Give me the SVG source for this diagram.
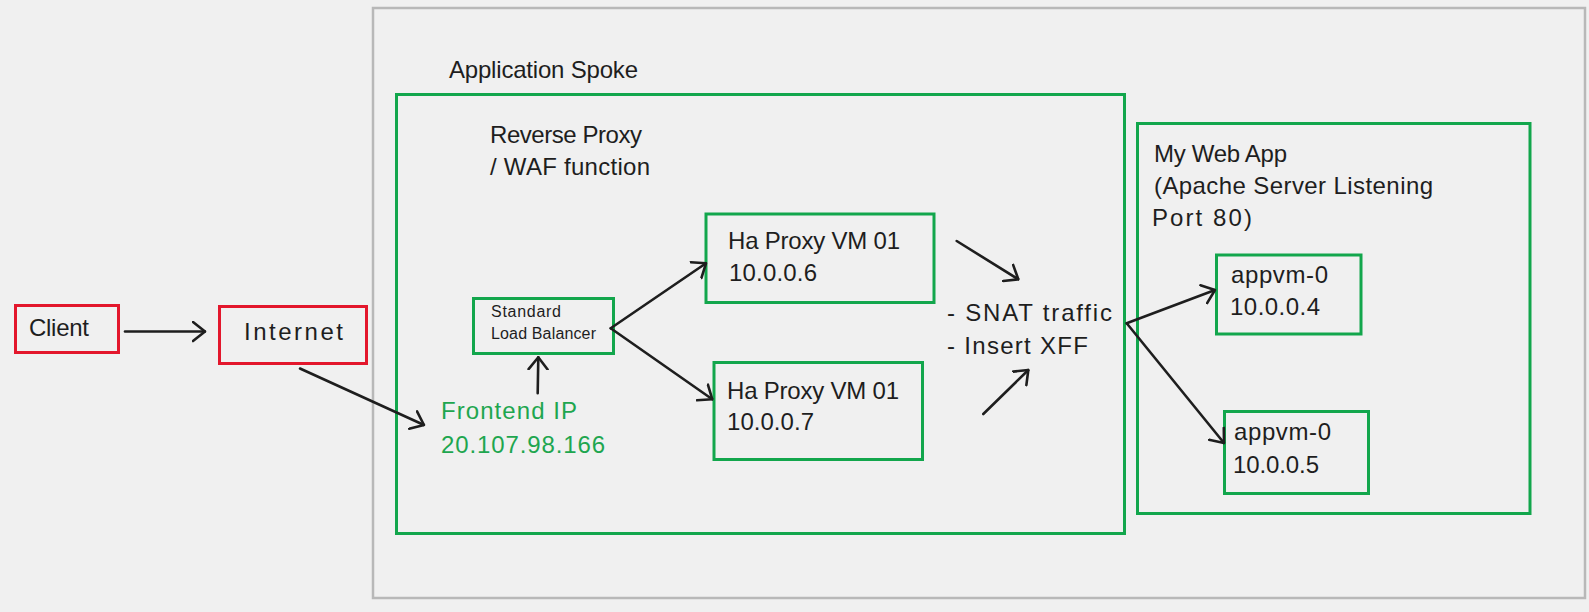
<svg xmlns="http://www.w3.org/2000/svg" width="1589" height="612" viewBox="0 0 1589 612">
<defs>
<style>
.t{font-family:"Liberation Sans","DejaVu Sans",sans-serif;fill:#1e1e1e;font-size:24px}
.s{font-size:16px}
.g{fill:#1ea64f}
.gb{fill:none;stroke:#12a64c;stroke-width:3}
.rb{fill:none;stroke:#e3172c;stroke-width:3}
.ob{fill:none;stroke:#b8b8b8;stroke-width:2.5}
.c line{stroke:#1e1e1e;stroke-width:2.6;fill:none;stroke-linecap:round;marker-end:url(#ah)}
</style>
<marker id="ah" viewBox="0 0 14 22" refX="13" refY="11" markerWidth="14" markerHeight="22" markerUnits="userSpaceOnUse" orient="auto">
<path d="M1,1.5 L13,11 L1,20.5" fill="none" stroke="#1e1e1e" stroke-width="2.6" stroke-linecap="round" stroke-linejoin="round"/>
</marker>
</defs>
<rect width="1589" height="612" fill="#f0f0f0"/>
<g id="application-spoke">
<rect class="ob" x="373" y="8" width="1212" height="590"/>
<text class="t" x="449" y="78" textLength="189" lengthAdjust="spacing">Application Spoke</text>
</g>
<g id="reverse-proxy">
<rect class="gb" x="396.5" y="94.5" width="728" height="439"/>
<text class="t" x="490" y="143" textLength="152" lengthAdjust="spacing">Reverse Proxy</text>
<text class="t" x="490" y="175" textLength="160" lengthAdjust="spacing">/ WAF function</text>
</g>
<g id="client">
<rect class="rb" x="15.5" y="305.5" width="103" height="47"/>
<text class="t" x="29" y="336" textLength="60" lengthAdjust="spacing">Client</text>
</g>
<g id="internet">
<rect class="rb" x="219.5" y="306.5" width="147" height="57"/>
<text class="t" x="244" y="340" textLength="99" lengthAdjust="spacing">Internet</text>
</g>
<g id="frontend-ip">
<text class="t g" x="441" y="419" textLength="136" lengthAdjust="spacing">Frontend IP</text>
<text class="t g" x="441" y="452.5" textLength="164" lengthAdjust="spacing">20.107.98.166</text>
</g>
<g id="load-balancer">
<rect class="gb" x="473.5" y="298.5" width="140" height="55"/>
<text class="t s" x="491" y="317" textLength="70" lengthAdjust="spacing">Standard</text>
<text class="t s" x="491" y="339" textLength="105" lengthAdjust="spacing">Load Balancer</text>
</g>
<g id="haproxy-vm-1">
<rect class="gb" x="706" y="214" width="228" height="88.5"/>
<text class="t" x="728" y="249" textLength="172" lengthAdjust="spacing">Ha Proxy VM 01</text>
<text class="t" x="729" y="280.5" textLength="88" lengthAdjust="spacing">10.0.0.6</text>
</g>
<g id="haproxy-vm-2">
<rect class="gb" x="714" y="362.5" width="208.5" height="97"/>
<text class="t" x="727" y="399" textLength="172" lengthAdjust="spacing">Ha Proxy VM 01</text>
<text class="t" x="727" y="430" textLength="87" lengthAdjust="spacing">10.0.0.7</text>
</g>
<g id="snat-note">
<text class="t" x="947" y="320.5" textLength="165" lengthAdjust="spacing">- SNAT traffic</text>
<text class="t" x="947" y="354" textLength="141" lengthAdjust="spacing">- Insert XFF</text>
</g>
<g id="web-app">
<rect class="gb" x="1137.5" y="123.5" width="392.5" height="390"/>
<text class="t" x="1154" y="161.5" textLength="133" lengthAdjust="spacing">My Web App</text>
<text class="t" x="1154" y="193.5" textLength="279" lengthAdjust="spacing">(Apache Server Listening</text>
<text class="t" x="1152" y="226" textLength="100" lengthAdjust="spacing">Port 80)</text>
</g>
<g id="appvm-1">
<rect class="gb" x="1216.5" y="255" width="144.5" height="79"/>
<text class="t" x="1231" y="282.5" textLength="97" lengthAdjust="spacing">appvm-0</text>
<text class="t" x="1230" y="315" textLength="90" lengthAdjust="spacing">10.0.0.4</text>
</g>
<g id="appvm-2">
<rect class="gb" x="1224.5" y="411.5" width="144" height="82"/>
<text class="t" x="1234" y="440" textLength="97" lengthAdjust="spacing">appvm-0</text>
<text class="t" x="1233" y="473" textLength="86" lengthAdjust="spacing">10.0.0.5</text>
</g>
<g id="connectors" class="c">
<line x1="125" y1="331.5" x2="205" y2="331.5"/>
<line x1="300" y1="368.5" x2="424" y2="425"/>
<line x1="537.7" y1="393.3" x2="538.3" y2="357.3"/>
<line x1="610.7" y1="328.3" x2="706" y2="263.3"/>
<line x1="610.7" y1="328.3" x2="712.3" y2="399.3"/>
<line x1="956.7" y1="241" x2="1018.3" y2="279.3"/>
<line x1="983.3" y1="414" x2="1028.3" y2="370"/>
<line x1="1126.7" y1="323.3" x2="1215" y2="290"/>
<line x1="1126.7" y1="323.3" x2="1224" y2="443"/>
</g>
</svg>
